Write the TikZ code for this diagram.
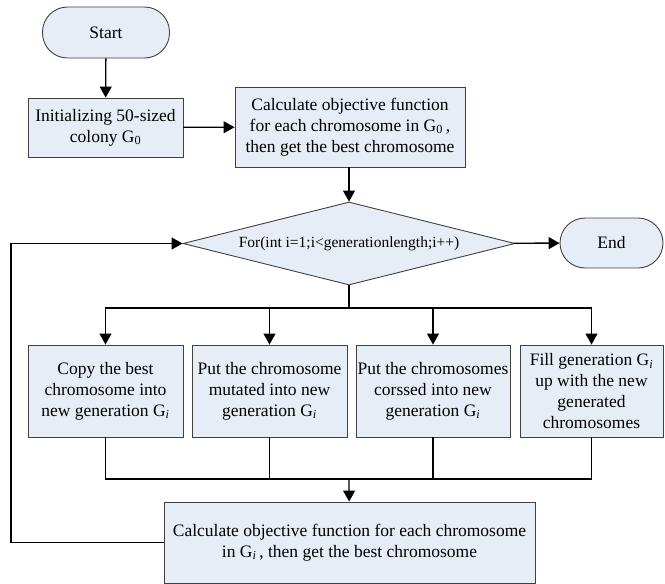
\documentclass[tikz,border=0pt]{standalone}
\usepackage{fontspec}
\setmainfont{Liberation Serif}
\usepackage{xcolor}
\usetikzlibrary{arrows.meta,shapes.geometric}

\definecolor{boxfill}{RGB}{231,237,247}
\definecolor{boxline}{RGB}{64,64,64}

\begin{document}
\begin{tikzpicture}[
					x=1pt, y=-1pt,
					flow box/.style={draw=boxline, line width=0.9pt, fill=boxfill, rectangle, inner sep=0pt, align=center, font=\fontsize{17.5}{21}\selectfont},
					flow term/.style={flow box, rounded corners=25pt},
					flow test/.style={flow box, diamond, aspect=4, font=\fontsize{15.5}{19}\selectfont},
					flow line/.style={line width=1.3pt},
					flow arrow/.style={flow line, -{Triangle[length=11pt,width=12pt]}},
				]
					\useasboundingbox (0,0) rectangle (665,584);
					
					\node[flow term, minimum width=127pt, minimum height=51pt] (start) at (106,32.5) {Start};
					\node[flow box, minimum width=155pt, minimum height=59pt] (init) at (105.5,127.5) {Initializing 50-sized\\colony G\textsubscript{0}};
					\node[flow box, minimum width=230pt, minimum height=80pt] (calc) at (350,127) {Calculate objective function\\for each chromosome in G\textsubscript{0}\,,\\then get the best chromosome};
					\node[flow test, minimum width=332pt, minimum height=83pt] (loop) at (349,243.5) {For(int i=1;i<generationlength;i++)};
					\node[flow term, minimum width=103pt, minimum height=50pt] (end) at (611.5,243) {End};
					
					\node[flow box, minimum width=155pt, minimum height=92pt] (copy) at (105.5,391) {Copy the best\\chromosome into\\new generation G\textsubscript{\textit{i}}};
					\node[flow box, minimum width=155pt, minimum height=92pt] (mutate) at (269.5,391) {Put the chromosome\\mutated into new\\generation G\textsubscript{\textit{i}}};
					\node[flow box, minimum width=154pt, minimum height=92pt] (cross) at (433,391) {Put the chromosomes\\corssed into new\\generation G\textsubscript{\textit{i}}};
					\node[flow box, minimum width=143pt, minimum height=92pt] (fill) at (591.5,391) {Fill generation G\textsubscript{\textit{i}}\\up with the new\\generated\\chromosomes};
					
					\node[flow box, minimum width=371pt, minimum height=81pt] (recalc) at (349.5,542.5) {Calculate objective function for each chromosome\\in G\textsubscript{\textit{i}}\,, then get the best chromosome};
					
					\coordinate (split) at (349,308);
					\coordinate (merge) at (349,479);
					\coordinate (back) at (11,542.5);
					
					\draw[flow arrow] (start) -- (init);
					\draw[flow arrow] (init) -- (calc);
					\draw[flow arrow] (calc.south -| loop.north) -- (loop);
					\draw[flow arrow] (loop) -- (end);
					
					\draw[flow line] (loop.south) -- (split);
					\foreach \step in {copy,mutate,cross,fill}
						\draw[flow arrow] (split) -| (\step);
					\foreach \step in {copy,mutate,cross,fill}
						\draw[flow line] (\step) |- (merge);
					\draw[flow arrow] (merge) -- (recalc);
					
					\draw[flow arrow] (recalc.west) -- (back) |- (loop.west);
				\end{tikzpicture}
\end{document}
